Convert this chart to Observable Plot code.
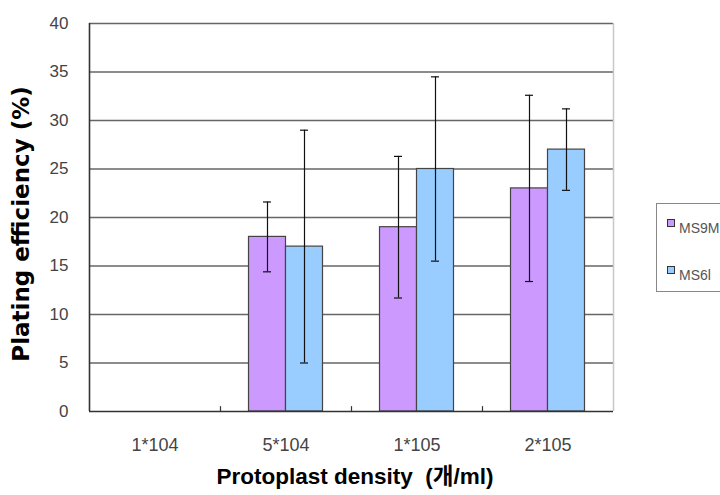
<!DOCTYPE html>
<html>
<head>
<meta charset="utf-8">
<script src="https://cdn.jsdelivr.net/npm/d3@7"></script>
<script src="https://cdn.jsdelivr.net/npm/@observablehq/plot@0.6"></script>
<style>
  html, body { margin: 0; padding: 0; background: white; }
  #wrap { position: relative; width: 720px; height: 495px; overflow: hidden; background: white; }
  #chart { position: absolute; left: 0; top: 0; }
  .ylab { position: absolute; left: 33px; top: 224px; transform-origin: 0 0; transform: rotate(-90deg) translate(-50%, -100%);
          font: bold 23px "DejaVu Sans", "Noto Sans CJK KR", sans-serif; color: #000; white-space: nowrap; line-height: 1; }
  .xlab { position: absolute; left: 355px; top: 466px; transform: translateX(-50%);
          font: bold 22.5px "Liberation Sans", "Noto Sans CJK KR", sans-serif; color: #000; white-space: nowrap; line-height: 1; }
  .legend { position: absolute; left: 656px; top: 203px; width: 90px; height: 87px; border: 1px solid #888; background: white; }
  .item { position: absolute; left: 10px; font: 14px "Liberation Sans", sans-serif; color: #555; white-space: nowrap; line-height: 1; }
  .sw { display: inline-block; width: 6px; height: 6px; border: 1px solid #333; margin-right: 4px; vertical-align: 6px; }
</style>
</head>
<body>
<div id="wrap">
  <div id="chart"></div>
  <div class="ylab">Plating efficiency (%)</div>
  <div class="xlab">Protoplast density&nbsp;&nbsp;(개/ml)</div>
  <div class="legend" id="legend"></div>
</div>
<script>
// ---- data ----
const densities = ["1*104", "5*104", "1*105", "2*105"];
const seriesNames = ["MS9M", "MS6l"];
const ms9m = [null, 18, 19, 23];
const ms6l = [null, 17, 25, 27];
const ms9mErr = [null, 3.6, 7.3, 9.6];
const ms6lErr = [null, 12, 9.5, 4.2];
const yTicks = [0, 5, 10, 15, 20, 25, 30, 35, 40];
const colors = ["#CC99FF", "#99CCFF"];

// ---- layout ----
const W = 720, H = 495;
const mL = 89, mR = 107, mT = 23, mB = 84;
const bw = (W - mL - mR) / densities.length;
const barW = 37;
const pad = (bw - 2 * barW) / 2;
const capW = 8;

const rows = (vals, errs) => densities.map((d, i) => ({density: d, value: vals[i], err: errs[i]}))
  .filter(r => r.value != null);
const r9 = rows(ms9m, ms9mErr);
const r6 = rows(ms6l, ms6lErr);

const chart = Plot.plot({
  width: W, height: H,
  marginLeft: mL, marginRight: mR, marginTop: mT, marginBottom: mB,
  style: {fontFamily: "Liberation Sans, sans-serif", background: "white", color: "#444"},
  x: {domain: densities, padding: 0, label: null, axis: null},
  y: {domain: [0, 40], label: null, axis: null},
  marks: [
    Plot.ruleY(yTicks.filter(v => v > 0), {stroke: "#666", strokeWidth: 1.3}),
    Plot.ruleX([densities[densities.length - 1]], {y1: 0, y2: 40, dx: bw / 2, stroke: "#c8c8c8", strokeWidth: 1.5}),
    Plot.barY(r9, {x: "density", y: "value", fill: colors[0], stroke: "#444", strokeWidth: 1.2,
      insetLeft: pad, insetRight: bw - pad - barW}),
    Plot.barY(r6, {x: "density", y: "value", fill: colors[1], stroke: "#444", strokeWidth: 1.2,
      insetLeft: pad + barW, insetRight: pad}),
    Plot.ruleX(r9, {x: "density", y1: d => d.value - d.err, y2: d => d.value + d.err, dx: -barW / 2, stroke: "#111", strokeWidth: 1.2}),
    Plot.ruleX(r6, {x: "density", y1: d => d.value - d.err, y2: d => d.value + d.err, dx: barW / 2, stroke: "#111", strokeWidth: 1.2}),
    Plot.tickY(r9, {x: "density", y: d => d.value + d.err, stroke: "#111", strokeWidth: 1.2,
      insetLeft: pad + barW / 2 - capW / 2, insetRight: bw - pad - barW / 2 - capW / 2}),
    Plot.tickY(r9, {x: "density", y: d => d.value - d.err, stroke: "#111", strokeWidth: 1.2,
      insetLeft: pad + barW / 2 - capW / 2, insetRight: bw - pad - barW / 2 - capW / 2}),
    Plot.tickY(r6, {x: "density", y: d => d.value + d.err, stroke: "#111", strokeWidth: 1.2,
      insetLeft: pad + barW * 1.5 - capW / 2, insetRight: pad + barW / 2 - capW / 2}),
    Plot.tickY(r6, {x: "density", y: d => d.value - d.err, stroke: "#111", strokeWidth: 1.2,
      insetLeft: pad + barW * 1.5 - capW / 2, insetRight: pad + barW / 2 - capW / 2}),
    Plot.ruleY([0], {stroke: "#333", strokeWidth: 1.6}),
    Plot.ruleX([densities[0]], {y1: 0, y2: 40, dx: -bw / 2, stroke: "#333", strokeWidth: 1.6}),
    Plot.ruleX(densities.slice(1), {x: d => d, y1: 0, y2: 0.5, dx: -bw / 2, stroke: "#333", strokeWidth: 1.2}),
    Plot.axisX({tickSize: 0, tickPadding: 27, fontSize: 18, label: null, fill: "#444"}),
    Plot.axisY({ticks: yTicks, tickSize: 0, tickPadding: 21, fontSize: 17, label: null, fill: "#444"})
  ]
});
document.getElementById("chart").appendChild(chart);

// legend
const lg = document.getElementById("legend");
seriesNames.forEach((s, i) => {
  const it = document.createElement("div");
  it.className = "item";
  it.style.top = (i === 0 ? 15 : 62) + "px";
  it.innerHTML = `<span class="sw" style="background:${colors[i]}"></span>${s}`;
  lg.appendChild(it);
});
</script>
</body>
</html>
